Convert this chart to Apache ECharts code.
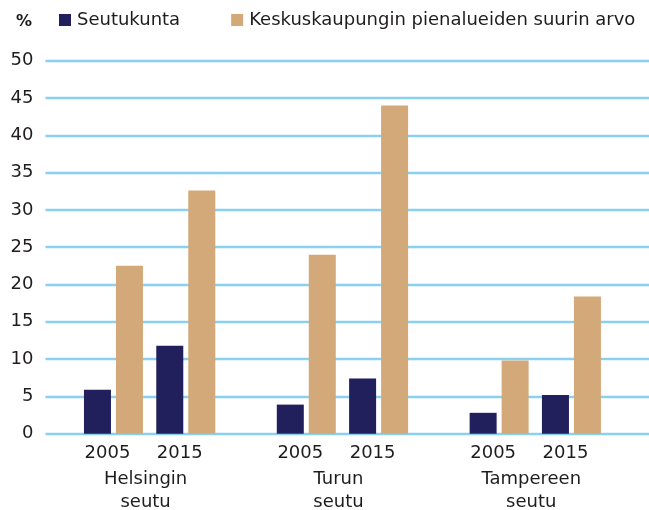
<!DOCTYPE html>
<html>
<head>
<meta charset="utf-8">
<title>Seutukunta ja keskuskaupungin pienalueiden suurin arvo</title>
<script src="https://cdn.jsdelivr.net/npm/echarts@6/dist/echarts.min.js"></script>
<style>
  html, body { margin: 0; padding: 0; background: #ffffff; }
  #chart { width: 649px; height: 510px; }
</style>
</head>
<body>
<div id="chart"></div>
<script>
// Chart data
const regions = ['Helsingin\nseutu', 'Turun\nseutu', 'Tampereen\nseutu'];
const years = ['2005', '2015'];
const seutukunta = [[5.9, 11.8], [3.9, 7.4], [2.8, 5.2]];
const suurinArvo = [[22.5, 32.6], [24.0, 44.0], [9.8, 18.4]];
const seriesNames = ['Seutukunta', 'Keskuskaupungin pienalueiden suurin arvo'];
const yMin = 0, yMax = 50, yStep = 5;

// Slot layout of the category axis: years sit three slots apart inside a
// region, regions sit eight slots apart.
const LEAD = 2, YEAR_STEP = 3, REGION_STEP = 8, SLOTS = 24;

const slotKeys = [];
const slotLabels = [];
const seutuData = [];
const suurinData = [];
for (let i = 0; i < SLOTS; i++) {
  slotKeys.push('slot' + i);
  slotLabels.push('');
  seutuData.push('-');
  suurinData.push('-');
}
regions.forEach(function (r, ri) {
  years.forEach(function (y, yi) {
    const idx = LEAD + ri * REGION_STEP + yi * YEAR_STEP;
    slotLabels[idx] = y;
    seutuData[idx] = seutukunta[ri][yi];
    suurinData[idx] = suurinArvo[ri][yi];
  });
});

// Region captions are centred between the two year groups
const regionKeys = [];
const regionLabels = [];
for (let i = 0; i <= SLOTS; i++) {
  regionKeys.push('pt' + i);
  regionLabels.push('');
}
regions.forEach(function (r, ri) {
  regionLabels[LEAD + ri * REGION_STEP + (YEAR_STEP + 1) / 2] = r;
});

const FONT = 'DejaVu Sans';
const TEXT = '#1f1c1d';
const NAVY = '#211f5c';
const TAN = '#d3a979';
const GRID_LINE = '#8ad0f1';

const chart = echarts.init(document.getElementById('chart'), null, { renderer: 'canvas' });

chart.setOption({
  animation: false,
  backgroundColor: '#ffffff',
  title: {
    text: '%',
    left: 16,
    top: 13,
    padding: 0,
    textStyle: { fontFamily: FONT, fontSize: 16, fontWeight: 'bold', color: TEXT, lineHeight: 18 }
  },
  legend: {
    left: 59,
    top: 10,
    padding: 0,
    itemWidth: 12,
    itemHeight: 12,
    itemGap: 51,
    icon: 'rect',
    textStyle: { fontFamily: FONT, fontSize: 18, color: TEXT, lineHeight: 20, padding: [0, 0, 0, 1] },
    data: seriesNames
  },
  grid: [
    // grid carrying the horizontal value lines
    { left: 45.5, right: 0, top: 60.7, bottom: 76.3, containLabel: false, outerBoundsMode: 'none' },
    // grid carrying the bars
    { left: 53.2, right: 17.3, top: 60.7, bottom: 76.3, containLabel: false, outerBoundsMode: 'none' }
  ],
  xAxis: [
    {
      gridIndex: 0,
      type: 'value',
      show: false,
      min: 0,
      max: 1
    },
    {
      gridIndex: 1,
      type: 'category',
      position: 'bottom',
      data: slotKeys,
      boundaryGap: true,
      axisLine: { show: false },
      axisTick: { show: false },
      splitLine: { show: false },
      axisLabel: {
        interval: 0,
        margin: 10,
        fontFamily: FONT,
        fontSize: 18,
        color: TEXT,
        lineHeight: 20,
        padding: [0, 12, 0, 0],
        formatter: function (v, i) { return slotLabels[i]; }
      }
    },
    {
      gridIndex: 1,
      type: 'category',
      position: 'bottom',
      data: regionKeys,
      boundaryGap: false,
      axisLine: { show: false },
      axisTick: { show: false },
      splitLine: { show: false },
      axisLabel: {
        interval: 0,
        margin: 34,
        fontFamily: FONT,
        fontSize: 18,
        color: TEXT,
        lineHeight: 23,
        align: 'center',
        padding: [0, 8, 0, 0],
        formatter: function (v, i) { return regionLabels[i]; }
      }
    }
  ],
  yAxis: [
    {
      gridIndex: 0,
      type: 'value',
      min: yMin,
      max: yMax,
      interval: yStep,
      axisLine: { show: false },
      axisTick: { show: false },
      axisLabel: {
        margin: 12,
        align: 'right',
        fontFamily: FONT,
        fontSize: 18,
        color: TEXT
      },
      splitLine: { show: true, lineStyle: { color: GRID_LINE, width: 2.4 } }
    },
    {
      gridIndex: 1,
      type: 'value',
      min: yMin,
      max: yMax,
      interval: yStep,
      show: false,
      splitLine: { show: false }
    }
  ],
  series: [
    {
      name: seriesNames[0],
      type: 'bar',
      xAxisIndex: 1,
      yAxisIndex: 1,
      data: seutuData,
      barWidth: 27,
      barGap: '18.5%',
      itemStyle: { color: NAVY },
      z: 3
    },
    {
      name: seriesNames[1],
      type: 'bar',
      xAxisIndex: 1,
      yAxisIndex: 1,
      data: suurinData,
      barWidth: 27,
      barGap: '18.5%',
      itemStyle: { color: TAN },
      z: 3
    }
  ]
});
</script>
</body>
</html>
